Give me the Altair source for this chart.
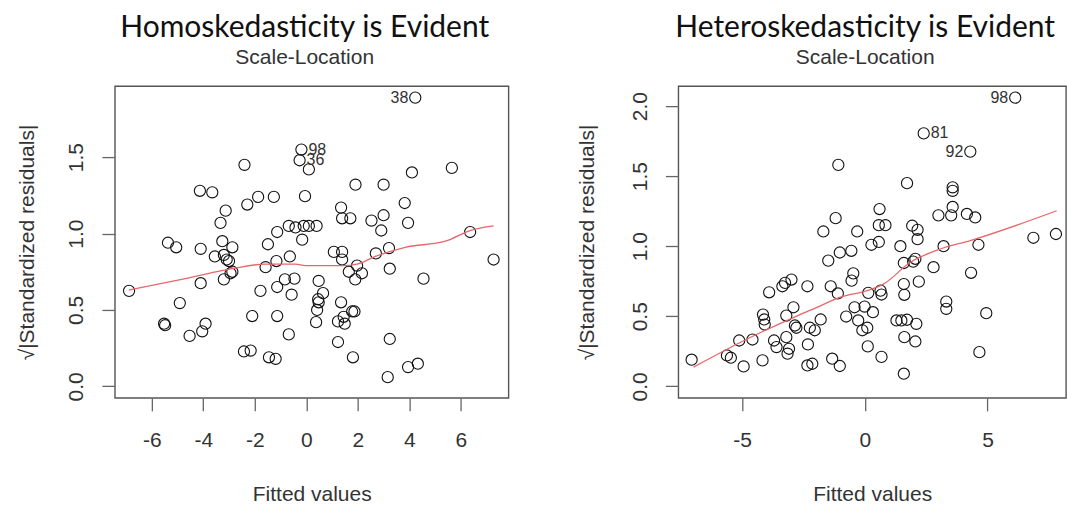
import altair as alt
import pandas as pd

# ---- Left panel: fitted values vs sqrt(|standardized residuals|) ----
left_fitted = [4.23, -0.19, -0.26, 0.1, -2.4, 5.65, 4.1, -4.13, -3.65, 1.91,
               3.0, -0.05, -1.87, -1.26, -2.29, 3.82, 1.35, -3.13, 1.39, 1.71,
               3.0, 2.53, 3.95, -3.33, -0.68, -0.42, -0.1, 0.1, 0.4, -1.13,
               2.91, 6.36, -0.16, -5.37, -5.05, -4.1, -3.26, -2.87, -1.49, 1.07,
               1.39, 2.7, 3.21, -3.55, -3.2, -3.09, -3.0, -1.16, -0.64, 1.39,
               7.27, -1.58, 1.97, -2.87, -2.94, 1.65, 2.16, 3.24, -3.2, -0.83,
               -0.46, 1.9, 4.55, 0.48, -4.1, -6.88, -1.78, -1.13, -0.57, 0.65,
               0.46, 0.48, 1.35, -4.91, 0.42, 1.78, 1.87, -2.1, -1.13, 1.45,
               1.23, 0.38, 1.49, -5.52, -5.48, -3.91, -4.04, -4.53, -0.68, 3.24,
               1.23, -2.42, -2.16, -1.45, -1.19, 1.81, 4.33, 3.95, 3.16]
left_resid = [1.89, 1.55, 1.48, 1.42, 1.45, 1.43, 1.40, 1.28, 1.27, 1.32,
              1.32, 1.245, 1.24, 1.24, 1.19, 1.20, 1.17, 1.15, 1.10, 1.10,
              1.12, 1.085, 1.07, 1.07, 1.05, 1.04, 1.05, 1.05, 1.05, 1.01,
              1.02, 1.01, 0.96, 0.94, 0.91, 0.90, 0.95, 0.91, 0.93, 0.88,
              0.88, 0.87, 0.905, 0.85, 0.86, 0.83, 0.82, 0.82, 0.85, 0.83,
              0.83, 0.78, 0.79, 0.75, 0.74, 0.75, 0.74, 0.77, 0.70, 0.70,
              0.705, 0.70, 0.705, 0.69, 0.675, 0.625, 0.625, 0.65, 0.60, 0.61,
              0.57, 0.55, 0.55, 0.545, 0.50, 0.49, 0.49, 0.46, 0.46, 0.455,
              0.425, 0.42, 0.41, 0.41, 0.40, 0.41, 0.36, 0.33, 0.34, 0.31,
              0.29, 0.228, 0.234, 0.19, 0.18, 0.19, 0.148, 0.126, 0.06]
left_smooth_x = [-6.88, -4.55, -2.88, -1.58, -0.42, -0.03, 1.39, 1.97, 2.68, 3.84, 5.4, 6.36, 7.27]
left_smooth_y = [0.63, 0.71, 0.77, 0.80, 0.80, 0.79, 0.79, 0.80, 0.85, 0.91, 0.95, 1.02, 1.05]
left_ids = ["38", "98", "36"]
left_id_x = [4.23, -0.19, -0.26]
left_id_y = [1.89, 1.55, 1.48]
left_id_side = ["left", "right", "right"]

# ---- Right panel ----
right_fitted = [6.13, 2.4, 4.3, -1.08, 1.72, 3.58, 3.58, 3.58, 0.6, 3.0,
                3.52, 4.16, 4.5, -1.19, 0.57, 0.84, 1.93, 2.15, -0.31, -1.69,
                2.15, 0.27, 0.57, 1.45, 3.21, 4.63, 6.87, 7.79, -1.02, -0.55,
                -1.49, 1.59, 1.97, 2.06, 2.8, 4.33, -0.47, -0.54, -1.39, -1.1,
                0.14, 0.64, 0.68, 1.59, 1.61, 2.2, -0.42, -0.01, 0.33, -0.76,
                -0.27, 0.1, -0.1, 3.32, 3.32, 4.95, 1.29, 1.49, 1.72, 2.1,
                1.61, 2.06, 0.12, 0.68, 4.67, 1.59, -1.33, -1.02, -7.06, -5.62,
                -5.46, -5.12, -4.94, -4.58, -4.15, -4.1, -4.08, -4.17, -3.9, -3.7,
                -3.6, -3.36, -3.25, -2.99, -3.2, -2.91, -3.2, -3.09, -3.15, -2.85,
                -2.79, -2.34, -2.32, -2.34, -2.14, -2.24, -2.04, -1.8]
right_resid = [2.06, 1.805, 1.675, 1.58, 1.45, 1.42, 1.395, 1.28, 1.265, 1.22,
               1.22, 1.23, 1.205, 1.2, 1.15, 1.15, 1.146, 1.117, 1.105, 1.105,
               1.05, 1.01, 1.03, 1.0, 1.0, 1.01, 1.06, 1.087, 0.955, 0.967,
               0.897, 0.88, 0.89, 0.91, 0.85, 0.81, 0.806, 0.754, 0.714, 0.663,
               0.667, 0.683, 0.655, 0.73, 0.653, 0.747, 0.564, 0.569, 0.529, 0.498,
               0.47, 0.418, 0.4, 0.605, 0.553, 0.522, 0.47, 0.47, 0.475, 0.446,
               0.351, 0.32, 0.285, 0.21, 0.244, 0.09, 0.197, 0.145, 0.19, 0.22,
               0.204, 0.327, 0.142, 0.334, 0.512, 0.477, 0.441, 0.185, 0.671, 0.327,
               0.28, 0.714, 0.738, 0.762, 0.505, 0.564, 0.351, 0.268, 0.233, 0.434,
               0.418, 0.714, 0.299, 0.149, 0.161, 0.418, 0.4, 0.477]
right_smooth_x = [-6.98, -4.92, -2.82, -1.93, -0.99, 0.1, 0.77, 1.86, 3.08, 4.3, 7.82]
right_smooth_y = [0.137, 0.327, 0.498, 0.565, 0.636, 0.683, 0.731, 0.885, 0.98, 1.04, 1.253]
right_ids = ["98", "81", "92"]
right_id_x = [6.13, 2.4, 4.3]
right_id_y = [2.06, 1.805, 1.675]
right_id_side = ["left", "right", "left"]

FONT = "Liberation Sans"
TITLE_FONT = "Lato"
TEXT_GREY = "#333333"


def panel(fx, ry, sx, sy, ids, idx, idy, side, xdom, ydom, xticks, yticks,
          width, title, y_title_pad):
    pts = pd.DataFrame({"fitted": fx, "root": ry})
    smooth = pd.DataFrame({"fitted": sx, "root": sy})
    labels = pd.DataFrame({"fitted": idx, "root": idy, "id": ids, "side": side})

    xscale = alt.Scale(domain=xdom, nice=False, zero=False)
    yscale = alt.Scale(domain=ydom, nice=False, zero=False)
    xaxis = alt.Axis(values=xticks, labelExpr="'' + datum.value",
                     title="Fitted values", labelPadding=19, titlePadding=33)
    yaxis = alt.Axis(values=yticks, format=".1f",
                     title="√|Standardized residuals|",
                     labelAngle=270, labelAlign="center", labelBaseline="bottom",
                     labelPadding=15, titlePadding=y_title_pad)

    x = alt.X("fitted:Q", scale=xscale, axis=xaxis)
    y = alt.Y("root:Q", scale=yscale, axis=yaxis)

    points = alt.Chart(pts).mark_point(
        shape="circle", filled=False, size=125, color="#111111",
        strokeWidth=1.1, opacity=1
    ).encode(x=x, y=y)

    line = alt.Chart(smooth).mark_line(
        color="#e8666a", strokeWidth=1.3, interpolate="monotone"
    ).encode(x="fitted:Q", y="root:Q")

    lab_left = alt.Chart(labels).transform_filter(
        alt.datum.side == "left"
    ).mark_text(align="right", baseline="middle", dx=-7, font=FONT,
                fontSize=16, color=TEXT_GREY).encode(
        x="fitted:Q", y="root:Q", text="id:N")
    lab_right = alt.Chart(labels).transform_filter(
        alt.datum.side == "right"
    ).mark_text(align="left", baseline="middle", dx=7, font=FONT,
                fontSize=16, color=TEXT_GREY).encode(
        x="fitted:Q", y="root:Q", text="id:N")

    return alt.layer(points, line, lab_left, lab_right).properties(
        width=width, height=312,
        title=alt.TitleParams(
            text=title, subtitle="Scale-Location",
            font=TITLE_FONT, fontSize=30, fontWeight="normal", color="#111111",
            subtitleFont=FONT, subtitleFontSize=21, subtitleColor=TEXT_GREY,
            anchor="middle", offset=18, subtitlePadding=4, dx=-7
        )
    )


left = panel(left_fitted, left_resid, left_smooth_x, left_smooth_y,
             left_ids, left_id_x, left_id_y, left_id_side,
             [-7.43, 7.85], [-0.0756, 1.965], [-6, -4, -2, 0, 2, 4, 6],
             [0.0, 0.5, 1.0, 1.5], 394,
             "Homoskedasticity is Evident", 28)
right = panel(right_fitted, right_resid, right_smooth_x, right_smooth_y,
              right_ids, right_id_x, right_id_y, right_id_side,
              [-7.6, 8.2], [-0.0824, 2.142], [-5, 0, 5],
              [0.0, 0.5, 1.0, 1.5, 2.0], 388,
              "Heteroskedasticity is Evident", 32)

chart = alt.hconcat(left, right, spacing=66).properties(
    padding={"left": 16, "top": 12, "right": 0, "bottom": 0},
    background="white"
).configure_view(
    stroke="#555555", strokeWidth=1.4
).configure_axis(
    domain=False, grid=False, tickSize=13, tickColor="#666666", tickWidth=1.3,
    labelFont=FONT, labelFontSize=21, labelColor=TEXT_GREY,
    titleFont=FONT, titleFontSize=21, titleFontWeight="normal",
    titleColor=TEXT_GREY
)

chart.save("out.html", embed_options={"renderer": "svg", "actions": False})
